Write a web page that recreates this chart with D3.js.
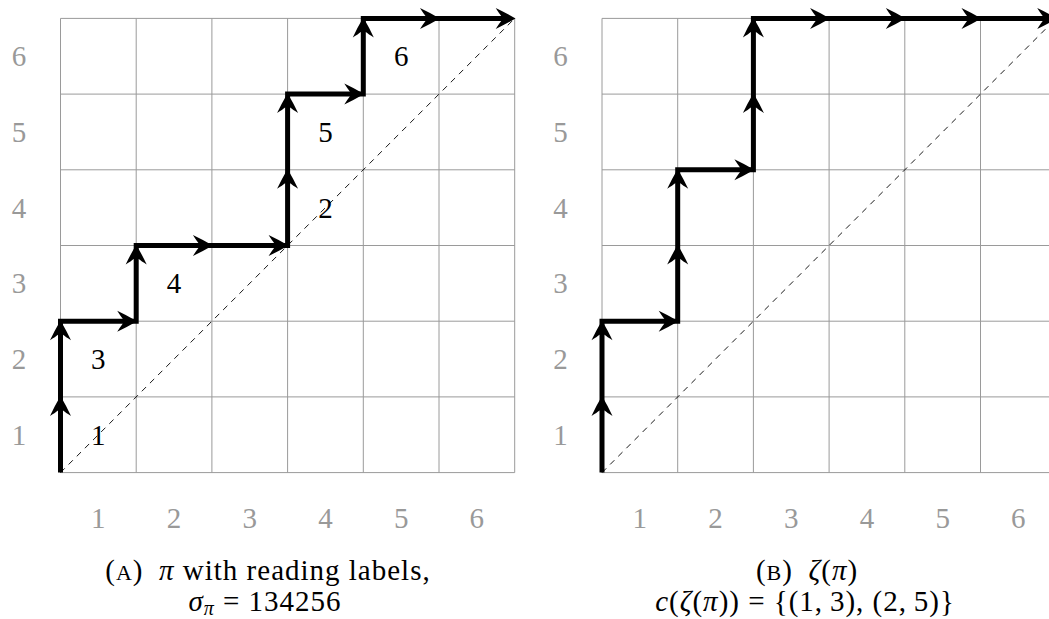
<!DOCTYPE html>
<html>
<head>
<meta charset="utf-8">
<script src="https://cdn.jsdelivr.net/npm/d3@7"></script>
<style>
  html, body { margin: 0; padding: 0; background: #fff; }
  svg { display: block; }
  text { font-family: "Liberation Serif", "Times New Roman", serif; }
</style>
</head>
<body>
<svg id="chart" width="1049" height="619"></svg>
<script>
// ---- data ----
const gridSize = 6;
const tickLabels = ["1", "2", "3", "4", "5", "6"];
// lattice paths: U = up step, R = right step
const pathA = ["U","U","R","U","R","R","U","U","R","U","R","R"];
const pathB = ["U","U","R","U","U","R","U","U","R","R","R","R"];
// reading labels attached to the up steps of path A (in order)
const readingLabelsA = ["1","3","4","2","5","6"];

const svg = d3.select("#chart");
svg.append("rect").attr("width", 1049).attr("height", 619).attr("fill", "#fff");

const cell = 75.7;
const panels = [
  { x0: 60.5, path: pathA, labels: readingLabelsA },
  { x0: 602,  path: pathB, labels: null }
];
const yScale = d3.scaleLinear().domain([0, gridSize]).range([472.6, 18.4]);

function arrowHead(g, x, y, angle) {
  g.append("path")
    .attr("d", "M0.8,0 Q-10,-6.3 -19,-10.5 Q-15.5,-5 -13.5,-2.5 L-13.5,2.5 Q-15.5,5 -19,10.5 Q-10,6.3 0.8,0 Z")
    .attr("transform", `translate(${x},${y}) rotate(${angle})`)
    .attr("fill", "#000");
}

panels.forEach(p => {
  const xScale = d3.scaleLinear().domain([0, gridSize]).range([p.x0, p.x0 + cell * gridSize]);
  const g = svg.append("g");

  // grid
  const ticks = d3.range(0, gridSize + 1);
  g.selectAll(".vl").data(ticks).join("line")
    .attr("x1", d => xScale(d)).attr("x2", d => xScale(d))
    .attr("y1", yScale(0)).attr("y2", yScale(gridSize))
    .attr("stroke", "#9a9a9a").attr("stroke-width", 1);
  g.selectAll(".hl").data(ticks).join("line")
    .attr("y1", d => yScale(d)).attr("y2", d => yScale(d))
    .attr("x1", xScale(0)).attr("x2", xScale(gridSize))
    .attr("stroke", "#9a9a9a").attr("stroke-width", 1);

  // diagonal
  g.append("line")
    .attr("x1", xScale(0)).attr("y1", yScale(0))
    .attr("x2", xScale(gridSize)).attr("y2", yScale(gridSize))
    .attr("stroke", "#000").attr("stroke-width", 0.9)
    .attr("stroke-dasharray", "6,5.5");

  // tick labels
  g.selectAll(".xt").data(tickLabels).join("text")
    .attr("x", (d, i) => xScale(i + 0.5)).attr("y", 528)
    .attr("text-anchor", "middle").attr("font-size", 29).attr("fill", "#999")
    .text(d => d);
  g.selectAll(".yt").data(tickLabels).join("text")
    .attr("x", p.x0 - 41.5).attr("y", (d, i) => yScale(i + 0.5) + 10)
    .attr("text-anchor", "middle").attr("font-size", 29).attr("fill", "#999")
    .text(d => d);

  // path points
  const pts = [[0, 0]];
  p.path.forEach(s => {
    const [cx, cy] = pts[pts.length - 1];
    pts.push(s === "U" ? [cx, cy + 1] : [cx + 1, cy]);
  });

  // reading labels in the cell to the right of each up step
  if (p.labels) {
    const ups = [];
    p.path.forEach((s, i) => { if (s === "U") ups.push(pts[i]); });
    g.selectAll(".rl").data(ups).join("text")
      .attr("x", d => xScale(d[0] + 0.5))
      .attr("y", d => yScale(d[1] + 0.5) + 10)
      .attr("text-anchor", "middle").attr("font-size", 29).attr("fill", "#000")
      .text((d, i) => p.labels[i]);
  }

  // thick path (last point shortened so the final tip stays sharp)
  const linePts = pts.map(d => [xScale(d[0]), yScale(d[1])]);
  const last = linePts[linePts.length - 1];
  const prevStep = p.path[p.path.length - 1];
  const lp = linePts.slice(0, -1).concat([prevStep === "R" ? [last[0] - 10, last[1]] : [last[0], last[1] + 10]]);
  g.append("path")
    .attr("d", d3.line()(lp))
    .attr("fill", "none").attr("stroke", "#000").attr("stroke-width", 5)
    .attr("stroke-linejoin", "miter").attr("stroke-linecap", "butt");

  // arrowheads at the end of every step
  p.path.forEach((s, i) => {
    const e = pts[i + 1];
    arrowHead(g, xScale(e[0]), yScale(e[1]), s === "U" ? -90 : 0);
  });
});

// captions
function cap(x, y) {
  return svg.append("text").attr("x", x).attr("y", y).attr("text-anchor", "middle")
    .attr("font-size", 29).attr("letter-spacing", 1).attr("fill", "#000");
}
const c1 = cap(268, 580);
c1.append("tspan").text("(");
c1.append("tspan").attr("font-size", 22).text("A");
c1.append("tspan").text(")\u2002");
c1.append("tspan").attr("font-style", "italic").text("π");
c1.append("tspan").text(" with reading labels,");

const c2 = cap(265, 611);
c2.append("tspan").attr("font-style", "italic").text("σ");
c2.append("tspan").attr("font-style", "italic").attr("font-size", 20).attr("dy", 4).text("π");
c2.append("tspan").attr("dy", -4).text(" = 134256");

const c3 = cap(807, 580);
c3.append("tspan").text("(");
c3.append("tspan").attr("font-size", 22).text("B");
c3.append("tspan").text(")\u2002");
c3.append("tspan").attr("font-style", "italic").text("ζ");
c3.append("tspan").text("(");
c3.append("tspan").attr("font-style", "italic").text("π");
c3.append("tspan").text(")");

const c4 = cap(805, 611);
c4.append("tspan").attr("font-style", "italic").text("c");
c4.append("tspan").text("(");
c4.append("tspan").attr("font-style", "italic").text("ζ");
c4.append("tspan").text("(");
c4.append("tspan").attr("font-style", "italic").text("π");
c4.append("tspan").text(")) = {(1,\u20093), (2,\u20095)}");
</script>
</body>
</html>
